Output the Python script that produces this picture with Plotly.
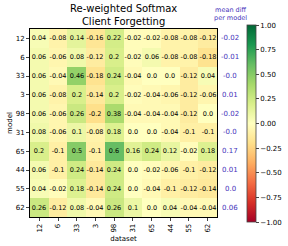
import plotly.graph_objects as go

models = ["12", "6", "33", "3", "98", "31", "65", "44", "55", "62"]
datasets = ["12", "6", "33", "3", "98", "31", "65", "44", "55", "62"]
values = [
    [0.04, -0.08, 0.14, -0.16, 0.22, -0.02, -0.02, -0.08, -0.08, -0.12],
    [0.06, -0.06, 0.08, -0.12, 0.2, -0.02, 0.06, -0.08, -0.08, -0.18],
    [0.06, -0.04, 0.46, -0.18, 0.24, -0.04, 0.0, 0.0, -0.12, 0.04],
    [0.06, -0.08, 0.2, -0.14, 0.2, -0.02, -0.04, -0.06, -0.12, -0.06],
    [0.06, -0.06, 0.26, -0.2, 0.38, -0.04, -0.04, -0.04, -0.12, 0.0],
    [0.08, -0.06, 0.1, -0.08, 0.18, 0.0, 0.0, -0.04, -0.1, -0.1],
    [0.2, -0.1, 0.5, -0.1, 0.6, 0.16, 0.24, 0.12, -0.02, 0.18],
    [0.06, -0.1, 0.24, -0.14, 0.24, 0.0, -0.02, -0.06, -0.1, -0.12],
    [0.04, -0.02, 0.18, -0.14, 0.24, 0.0, -0.04, -0.1, -0.12, -0.14],
    [0.26, -0.12, 0.08, -0.04, 0.26, 0.1, 0.0, 0.04, -0.04, -0.04],
]
mean_diff = [-0.02, -0.01, -0.0, 0.01, -0.02, -0.0, 0.17, 0.01, 0.0, 0.06]

text = [[str(v) for v in row] for row in values]

fig = go.Figure()
fig.add_trace(go.Heatmap(
    z=values, x=datasets, y=models, text=text,
    texttemplate="%{text}", textfont=dict(size=6.5, color="black"),
    colorscale="RdYlGn", zmin=-1, zmax=1, xgap=0, ygap=0,
    colorbar=dict(
        x=1.159, xanchor="left", y=0.497, yanchor="middle",
        len=1.048, lenmode="fraction", thickness=9,
        outlinewidth=0.8, outlinecolor="#444",
        tickvals=[-1, -0.75, -0.5, -0.25, 0, 0.25, 0.5, 0.75, 1],
        tickformat=".2f", ticks="outside", ticklen=3, tickwidth=0.8,
        tickfont=dict(size=7, color="black"), xpad=0, ypad=0,
    ),
))

annotations = []
for i, d in enumerate(mean_diff):
    annotations.append(dict(
        x=1.07, xref="paper", y=i, yref="y", text=str(d), showarrow=False,
        font=dict(size=7, color="#4433bb"), xanchor="center",
    ))
annotations.append(dict(
    x=1.07, xref="paper", y=1.025, yref="paper", text="mean diff<br>per model",
    showarrow=False, font=dict(size=6.5, color="#4433bb"), xanchor="center",
    yanchor="bottom",
))
annotations.append(dict(
    x=0.5, xref="paper", y=1.0, yref="paper",
    text="Re-weighted Softmax<br>Client Forgetting", showarrow=False,
    font=dict(size=10, color="black"), xanchor="center", yanchor="bottom",
))

fig.update_layout(
    width=288, height=246,
    margin=dict(l=30, r=71, t=29, b=29, autoexpand=False),
    paper_bgcolor="white", plot_bgcolor="white",
    font=dict(family="DejaVu Sans", size=7, color="black"),
    annotations=annotations,
    xaxis=dict(
        type="category", title=dict(text="dataset", font=dict(size=7), standoff=4),
        range=[-0.5, 9.5], tickangle=-90, ticks="outside", ticklen=3, tickwidth=0.8,
        showline=True, linecolor="black", linewidth=0.8, mirror=True, automargin=False,
        tickfont=dict(size=7), showgrid=False, zeroline=False,
    ),
    yaxis=dict(
        type="category", title=dict(text="model", font=dict(size=7), standoff=2),
        range=[9.5, -0.5], ticks="outside", ticklen=3, tickwidth=0.8,
        showline=True, linecolor="black", linewidth=0.8, mirror=True, automargin=False,
        tickfont=dict(size=7), showgrid=False, zeroline=False,
    ),
)

fig.write_html("out.html", config={"displayModeBar": False},
               post_script="document.body.style.margin='0';")
